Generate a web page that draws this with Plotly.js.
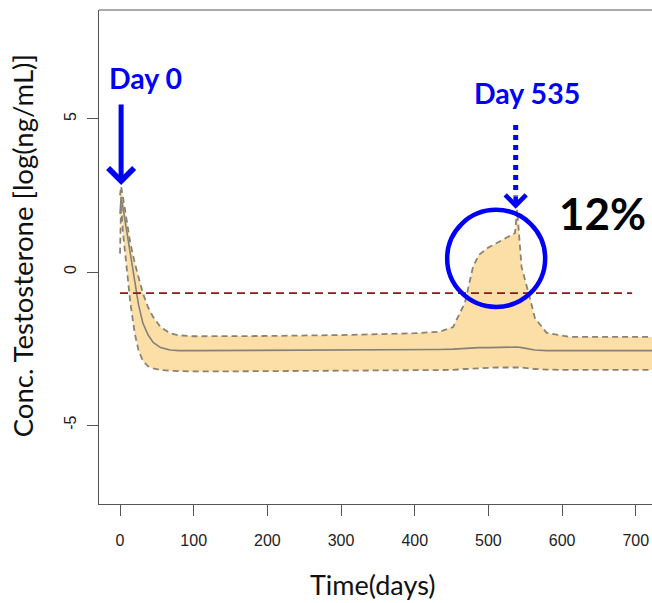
<!DOCTYPE html>
<html>
<head>
<meta charset="utf-8">
<script src="https://cdn.plot.ly/plotly-3.0.1.min.js"></script>
<style>html,body{margin:0;padding:0;background:#fff;overflow:hidden;}</style>
</head>
<body>
<div id="chart" style="width:652px;height:603px;"></div>
<script>
// Time points (days)
var days = [0, 1.5, 4, 9, 14, 20, 25, 31, 38, 45, 55, 68, 80, 100, 200, 300, 400, 434, 452, 468, 479, 487, 500, 512, 532, 536, 539, 545, 556, 563, 579, 611, 722];
// Upper prediction bound
var upper = [2.5, 2.8, 2.45, 1.65, 0.95, 0.3, -0.15, -0.69, -1.15, -1.47, -1.8, -2.0, -2.07, -2.1, -2.09, -2.06, -2.0, -1.95, -1.8, -1.01, 0.16, 0.56, 0.8, 0.95, 1.21, 1.27, 2.03, 0.16, -0.82, -1.5, -1.99, -2.12, -2.12];
// Median
var median = [1.9, 2.45, 2.1, 1.4, 0.6, -0.3, -1.05, -1.67, -2.05, -2.3, -2.47, -2.55, -2.57, -2.57, -2.56, -2.55, -2.55, -2.53, -2.52, -2.49, -2.48, -2.47, -2.47, -2.46, -2.45, -2.45, -2.45, -2.47, -2.52, -2.55, -2.57, -2.57, -2.57];
// Lower prediction bound
var lower = [0.6, 2.2, 1.3, 0.07, -1.0, -2.0, -2.55, -2.9, -3.08, -3.15, -3.2, -3.23, -3.24, -3.25, -3.24, -3.23, -3.22, -3.21, -3.2, -3.17, -3.15, -3.14, -3.13, -3.12, -3.11, -3.11, -3.11, -3.12, -3.15, -3.17, -3.19, -3.2, -3.2];
// Threshold line
var thresholdDays = [0, 695];
var thresholdValue = -0.69;
// Axis ticks
var xTicks = [0, 100, 200, 300, 400, 500, 600, 700];
var yTicks = [-5, 0, 5];
var yTickLabels = ['-5', '0', '5'];

var bandGray = '#8c8273';
var traces = [
  {x: days, y: lower, mode: 'lines', line: {width: 0}, hoverinfo: 'skip', showlegend: false},
  {x: days, y: upper, mode: 'lines', line: {width: 0}, fill: 'tonexty', fillcolor: '#FCDFA6', hoverinfo: 'skip', showlegend: false},
  {x: days, y: lower, mode: 'lines', line: {color: bandGray, width: 1.8, dash: '6px,4px'}, showlegend: false},
  {x: days, y: upper, mode: 'lines', line: {color: bandGray, width: 1.8, dash: '6px,4px'}, showlegend: false},
  {x: days, y: median, mode: 'lines', line: {color: '#858178', width: 1.6}, showlegend: false},
  {x: thresholdDays, y: [thresholdValue, thresholdValue], mode: 'lines', line: {color: '#8B1A1A', width: 1.6, dash: '8px,5px'}, showlegend: false}
];

var blue = '#0000F5';
var layout = {
  width: 652, height: 603,
  margin: {l: 99, r: 0, t: 10, b: 99},
  paper_bgcolor: '#fff', plot_bgcolor: '#fff',
  showlegend: false,
  xaxis: {
    range: [-28.5, 722], tickvals: xTicks, ticktext: xTicks.map(String),
    showgrid: false, zeroline: false, showline: true, linecolor: '#555', linewidth: 1,
    ticks: 'outside', ticklen: 11, tickcolor: '#555', ticklabelstandoff: 11,
    tickfont: {family: 'Liberation Sans, Arial', size: 16, color: '#222'}
  },
  yaxis: {
    range: [-7.58, 8.56], tickvals: yTicks, ticktext: yTickLabels, tickangle: -90,
    showgrid: false, zeroline: false, showline: true, linecolor: '#555', linewidth: 1,
    ticks: 'outside', ticklen: 11, tickcolor: '#555', ticklabelstandoff: 5,
    tickfont: {family: 'Liberation Sans, Arial', size: 16, color: '#222'}
  },
  shapes: [
    {type: 'line', xref: 'paper', yref: 'paper', x0: 0, x1: 1, y0: 1, y1: 1, line: {color: '#555', width: 1}},
    {type: 'circle', xref: 'x', yref: 'y', x0: 444, x1: 577, y0: -1.14, y1: 2.03, line: {color: blue, width: 4.5}},
    {type: 'line', xref: 'x', yref: 'y', x0: 537, x1: 537, y0: 4.8, y1: 2.5, line: {color: blue, width: 5, dash: 'dot'}}
  ],
  annotations: [
    {xref: 'paper', yref: 'paper', x: -0.139, y: 0.522, text: 'Conc. Testosterone [log(ng/mL)]', textangle: -90, showarrow: false,
     xanchor: 'center', yanchor: 'middle', font: {family: 'Lato, Open Sans', size: 27.5, color: '#111'}},
    {xref: 'paper', yref: 'paper', x: 0.495, y: -0.162, text: 'Time(days)', showarrow: false,
     xanchor: 'center', yanchor: 'middle', font: {family: 'Lato, Open Sans', size: 27, color: '#111'}},
    {xref: 'x', yref: 'y', x: 34, y: 6.34, text: '<b>Day 0</b>', showarrow: false, xanchor: 'center', yanchor: 'middle',
     font: {family: 'Lato, Open Sans', size: 28.5, color: blue}},
    {xref: 'x', yref: 'y', x: 1.5, y: 2.84, text: '', showarrow: true, ax: 0, ay: -82, arrowhead: 4, arrowsize: 1, arrowwidth: 5, arrowcolor: blue, standoff: 0},
    {xref: 'x', yref: 'y', x: 552, y: 5.85, text: '<b>Day 535</b>', showarrow: false, xanchor: 'center', yanchor: 'middle',
     font: {family: 'Lato, Open Sans', size: 28.5, color: blue}},
    {xref: 'x', yref: 'y', x: 537, y: 2.07, text: '', showarrow: true, ax: 0, ay: -14, arrowhead: 4, arrowsize: 0.9, arrowwidth: 4.5, arrowcolor: blue, standoff: 0},
    {xref: 'x', yref: 'y', x: 655, y: 1.93, text: '<b>12%</b>', showarrow: false, xanchor: 'center', yanchor: 'middle',
     font: {family: 'Lato, Open Sans', size: 44, color: '#000'}}
  ]
};

Plotly.newPlot('chart', traces, layout, {displayModeBar: false, staticPlot: true});
</script>
</body>
</html>
